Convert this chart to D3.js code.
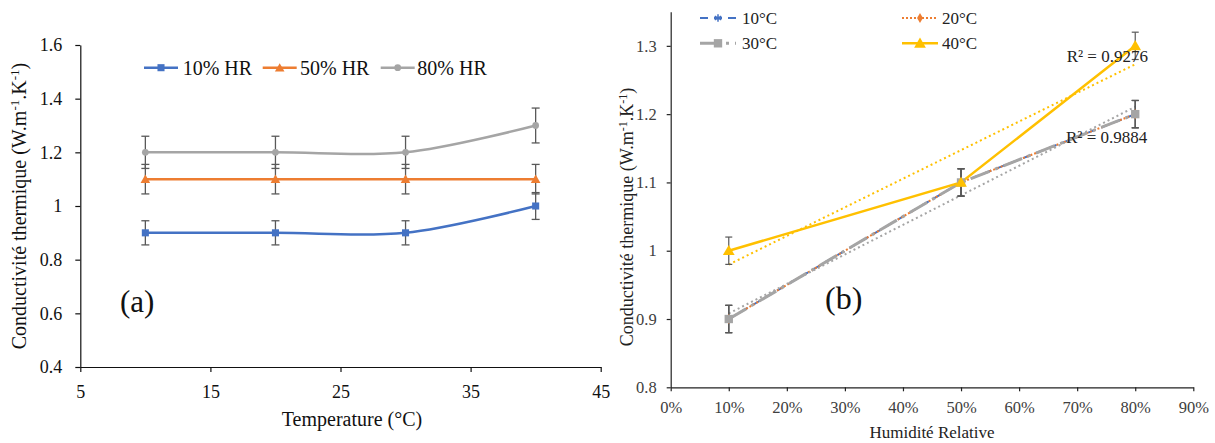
<!DOCTYPE html>
<html><head><meta charset="utf-8">
<script src="https://cdn.jsdelivr.net/npm/d3@7"></script>
<style>
html,body{margin:0;padding:0;background:#fff;}
svg{display:block;}
svg text{font-family:"Liberation Serif","Tinos","Times New Roman","Nimbus Roman","DejaVu Serif","Noto Serif",serif !important;}
</style></head>
<body>
<svg id="c" width="1215" height="443"></svg>
<script>
// ---------- Data: chart (a) ----------
const temperatures = [10, 20, 30, 40];
const hrSeriesNames = ["10% HR", "50% HR", "80% HR"];
const hr10Values = [0.9, 0.9, 0.9, 1.0];
const hr50Values = [1.1, 1.1, 1.1, 1.1];
const hr80Values = [1.2, 1.2, 1.2, 1.3];
const hr10Errors = [0.045, 0.045, 0.045, 0.05];
const hr50Errors = [0.055, 0.055, 0.055, 0.055];
const hr80Errors = [0.06, 0.06, 0.06, 0.065];
const xTicksA = [5, 15, 25, 35, 45];
const yTicksA = [0.4, 0.6, 0.8, 1.0, 1.2, 1.4, 1.6];

// ---------- Data: chart (b) ----------
const humidityLevels = [0.1, 0.5, 0.8];
const tempSeriesNames = ["10°C", "20°C", "30°C", "40°C"];
const t10Values = [0.9, 1.1, 1.2];
const t20Values = [0.9, 1.1, 1.2];
const t30Values = [0.9, 1.1, 1.2];
const t40Values = [1.0, 1.1, 1.3];
const tErrors = [0.02, 0.02, 0.02];
const xTicksB = [0, 0.1, 0.2, 0.3, 0.4, 0.5, 0.6, 0.7, 0.8, 0.9];
const yTicksB = [0.8, 0.9, 1.0, 1.1, 1.2, 1.3];

const svg = d3.select("#c");
const fmtNum = d => d3.format("~g")(d);

// ================= Chart (a) =================
const xA = d3.scaleLinear().domain([5, 45]).range([80.3, 600.7]);
const yA = d3.scaleLinear().domain([0.4, 1.6]).range([367, 45]);
const gA = svg.append("g");

gA.append("g").attr("transform", `translate(0,${yA(0.4)})`)
  .call(d3.axisBottom(xA).tickValues(xTicksA).tickSize(5).tickSizeOuter(0).tickPadding(13).tickFormat(fmtNum))
  .call(g => { g.attr("font-family", null); g.selectAll("text").attr("font-size", 18).attr("fill", "#111"); g.selectAll("line,path").attr("stroke", "#111").attr("stroke-width", 1.2); });
gA.append("g").attr("transform", `translate(${xA(5)},0)`)
  .call(d3.axisLeft(yA).tickValues(yTicksA).tickSize(5).tickSizeOuter(0).tickPadding(13).tickFormat(fmtNum))
  .call(g => { g.attr("font-family", null); g.selectAll("text").attr("font-size", 18).attr("fill", "#111"); g.selectAll("line,path").attr("stroke", "#111").attr("stroke-width", 1.2); });

const seriesA = [
  {name: hrSeriesNames[0], vals: hr10Values, errs: hr10Errors, color: "#4472C4", marker: "square"},
  {name: hrSeriesNames[1], vals: hr50Values, errs: hr50Errors, color: "#ED7D31", marker: "triangle"},
  {name: hrSeriesNames[2], vals: hr80Values, errs: hr80Errors, color: "#A5A5A5", marker: "circle"}
];
const symA = {square: d3.symbolSquare, triangle: d3.symbolTriangle, circle: d3.symbolCircle};
const sizeA = {square: 50, triangle: 40, circle: 36};

const lineA = d3.line().curve(d3.curveCardinal.tension(0)).x(d => xA(d[0])).y(d => yA(d[1]));
seriesA.forEach(s => {
  const pts = temperatures.map((t, i) => [t, s.vals[i]]);
  gA.append("path").attr("d", lineA(pts)).attr("fill", "none").attr("stroke", s.color).attr("stroke-width", 2.5);
});
seriesA.forEach(s => {
  temperatures.forEach((t, i) => {
    const x = xA(t), y1 = yA(s.vals[i] + s.errs[i]), y2 = yA(s.vals[i] - s.errs[i]);
    const eg = gA.append("g").attr("stroke", "#595959").attr("stroke-width", 1.3);
    eg.append("line").attr("x1", x).attr("x2", x).attr("y1", y1).attr("y2", y2);
    eg.append("line").attr("x1", x - 4).attr("x2", x + 4).attr("y1", y1).attr("y2", y1);
    eg.append("line").attr("x1", x - 4).attr("x2", x + 4).attr("y1", y2).attr("y2", y2);
  });
});
seriesA.forEach(s => {
  temperatures.forEach((t, i) => {
    gA.append("path").attr("d", d3.symbol(symA[s.marker], sizeA[s.marker])())
      .attr("transform", `translate(${xA(t)},${yA(s.vals[i]) + (s.marker === "triangle" ? 1 : 0)})`).attr("fill", s.color);
  });
});
const legA = [{x: 144, tx: 182.7}, {x: 262.7, tx: 300}, {x: 380.7, tx: 417.3}];
seriesA.forEach((s, i) => {
  const l = legA[i], ly = 67.7;
  gA.append("line").attr("x1", l.x).attr("x2", l.x + 34).attr("y1", ly).attr("y2", ly).attr("stroke", s.color).attr("stroke-width", 2.5);
  gA.append("path").attr("d", d3.symbol(symA[s.marker], sizeA[s.marker])()).attr("transform", `translate(${l.x + 17},${ly + (s.marker === "triangle" ? 1 : 0)})`).attr("fill", s.color);
  gA.append("text").attr("x", l.tx).attr("y", ly + 7).attr("font-size", 20).attr("fill", "#111").text(s.name);
});
gA.append("text").attr("x", 352).attr("y", 426).attr("text-anchor", "middle").attr("font-size", 20).attr("fill", "#111").text("Temperature (°C)");
const ytA = gA.append("text").attr("transform", "translate(26,206) rotate(-90)").attr("text-anchor", "middle").attr("font-size", 20).attr("fill", "#111");
ytA.append("tspan").text("Conductivité thermique (W.m");
ytA.append("tspan").attr("font-size", 13).attr("dy", -7).text("-1");
ytA.append("tspan").attr("dy", 7).text(".K");
ytA.append("tspan").attr("font-size", 13).attr("dy", -7).text("-1");
ytA.append("tspan").attr("dy", 7).text(")");
gA.append("text").attr("x", 120).attr("y", 312).attr("font-size", 31).attr("fill", "#111").text("(a)");

// ================= Chart (b) =================
const xB = d3.scaleLinear().domain([0, 0.9]).range([670.7, 1193.3]);
const yB = d3.scaleLinear().domain([0.8, 1.35]).range([387.3, 11.7]);
const gB = svg.append("g");

gB.append("g").attr("transform", `translate(0,${yB(0.8)})`)
  .call(d3.axisBottom(xB).tickValues(xTicksB).tickSize(4).tickSizeOuter(0).tickPadding(10).tickFormat(d3.format(".0%")))
  .call(g => { g.attr("font-family", null); g.selectAll("text").attr("font-size", 16.5).attr("fill", "#404040"); g.selectAll("line,path").attr("stroke", "#222").attr("stroke-width", 1.2); });
gB.append("g").attr("transform", `translate(${xB(0)},0)`)
  .call(d3.axisLeft(yB).tickValues(yTicksB).tickSize(4).tickSizeOuter(0).tickPadding(10).tickFormat(fmtNum))
  .call(g => { g.attr("font-family", null); g.selectAll("text").attr("font-size", 16.5).attr("fill", "#404040"); g.selectAll("line,path").attr("stroke", "#222").attr("stroke-width", 1.2); });

const seriesB = [
  {name: tempSeriesNames[0], vals: t10Values, color: "#4472C4", dash: "8,6", width: 2, marker: "star"},
  {name: tempSeriesNames[1], vals: t20Values, color: "#ED7D31", dash: "2,2", width: 2, marker: "diamond"},
  {name: tempSeriesNames[2], vals: t30Values, color: "#A5A5A5", dash: "20,6,3,6", width: 3, marker: "square"},
  {name: tempSeriesNames[3], vals: t40Values, color: "#FFC000", dash: null, width: 2.5, marker: "triangle"}
];
const symB = {star: d3.symbolAsterisk, diamond: d3.symbolDiamond, square: d3.symbolSquare, triangle: d3.symbolTriangle};
const sizeB = {star: 40, diamond: 30, square: 70, triangle: 60};
function drawMarker(g, s, x, y) {
  const p = g.append("path").attr("d", d3.symbol(symB[s.marker], sizeB[s.marker])())
    .attr("transform", `translate(${x},${y + (s.marker === "triangle" ? 1 : 0)})`);
  if (s.marker === "star") p.attr("fill", "none").attr("stroke", s.color).attr("stroke-width", 1.5);
  else p.attr("fill", s.color);
}

const lineB = d3.line().x(d => xB(d[0])).y(d => yB(d[1]));
function regress(xs, ys) {
  const mx = d3.mean(xs), my = d3.mean(ys);
  let sxy = 0, sxx = 0, syy = 0;
  xs.forEach((x, i) => { sxy += (x - mx) * (ys[i] - my); sxx += (x - mx) ** 2; syy += (ys[i] - my) ** 2; });
  const b = sxy / sxx, a = my - b * mx;
  return {a, b, r2: (b * sxy) / syy};
}
const trendSeries = [
  {vals: t30Values, color: "#A5A5A5", label: {x: 1066, y: 143}},
  {vals: t40Values, color: "#FFC000", label: {x: 1066.7, y: 61.7}}
];
const xmin = d3.min(humidityLevels), xmax = d3.max(humidityLevels);

seriesB.forEach(s => {
  const pts = humidityLevels.map((h, i) => [h, s.vals[i]]);
  const p = gB.append("path").attr("d", lineB(pts)).attr("fill", "none").attr("stroke", s.color).attr("stroke-width", s.width);
  if (s.dash) p.attr("stroke-dasharray", s.dash);
});
trendSeries.forEach(t => {
  const r = regress(humidityLevels, t.vals);
  gB.append("path").attr("d", lineB([[xmin, r.a + r.b * xmin], [xmax, r.a + r.b * xmax]]))
    .attr("fill", "none").attr("stroke", t.color).attr("stroke-width", 2).attr("stroke-dasharray", "2,3");
});
seriesB.forEach(s => {
  humidityLevels.forEach((h, i) => {
    const x = xB(h), y1 = yB(s.vals[i] + tErrors[i]), y2 = yB(s.vals[i] - tErrors[i]);
    const eg = gB.append("g").attr("stroke", "#595959").attr("stroke-width", 1.2);
    eg.append("line").attr("x1", x).attr("x2", x).attr("y1", y1).attr("y2", y2);
    eg.append("line").attr("x1", x - 3.5).attr("x2", x + 3.5).attr("y1", y1).attr("y2", y1);
    eg.append("line").attr("x1", x - 3.5).attr("x2", x + 3.5).attr("y1", y2).attr("y2", y2);
  });
});
seriesB.forEach(s => {
  humidityLevels.forEach((h, i) => drawMarker(gB, s, xB(h), yB(s.vals[i])));
});
trendSeries.forEach(t => {
  const r = regress(humidityLevels, t.vals);
  gB.append("text").attr("x", t.label.x).attr("y", t.label.y).attr("font-size", 17).attr("fill", "#222")
    .text("R² = " + d3.format(".4f")(r.r2));
});

const legB = [{x: 700, tx: 742, y: 18}, {x: 902, tx: 942, y: 18}, {x: 700, tx: 742, y: 43.3}, {x: 902, tx: 942, y: 43.3}];
seriesB.forEach((s, i) => {
  const l = legB[i];
  const ln = gB.append("line").attr("x1", l.x).attr("x2", l.x + 36).attr("y1", l.y).attr("y2", l.y)
    .attr("stroke", s.color).attr("stroke-width", s.width);
  if (s.dash) ln.attr("stroke-dasharray", s.dash);
  drawMarker(gB, s, l.x + 18, l.y);
  gB.append("text").attr("x", l.tx).attr("y", l.y + 6).attr("font-size", 17).attr("fill", "#222").text(s.name);
});

gB.append("text").attr("x", 932).attr("y", 438).attr("text-anchor", "middle").attr("font-size", 17).attr("fill", "#222").text("Humidité Relative");
const ytB = gB.append("text").attr("transform", "translate(633,217) rotate(-90)").attr("text-anchor", "middle").attr("font-size", 18).attr("fill", "#222");
ytB.append("tspan").text("Conductivité thermique (W.m");
ytB.append("tspan").attr("font-size", 12).attr("dy", -6).text("-1");
ytB.append("tspan").attr("dy", 6).text(".K");
ytB.append("tspan").attr("font-size", 12).attr("dy", -6).text("-1");
ytB.append("tspan").attr("dy", 6).text(")");
gB.append("text").attr("x", 825).attr("y", 309).attr("font-size", 32).attr("fill", "#111").text("(b)");
</script>
</body></html>
